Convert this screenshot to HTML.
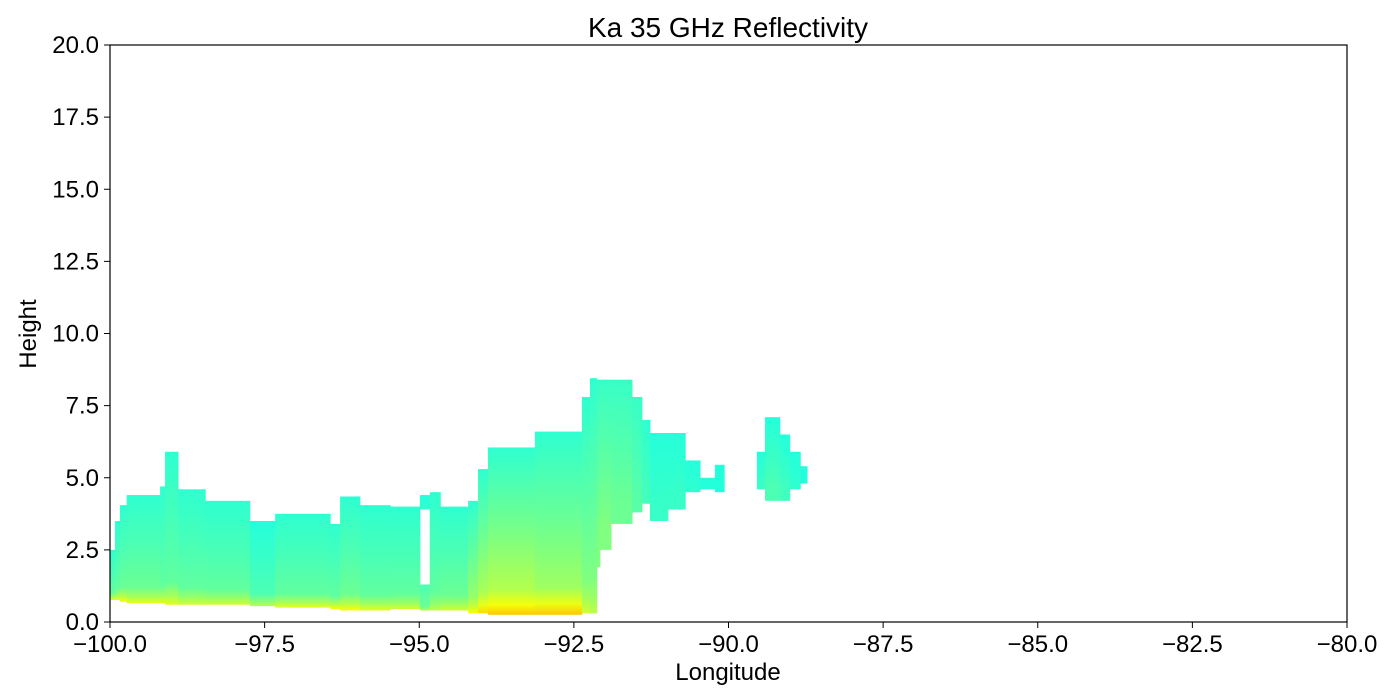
<!DOCTYPE html>
<html><head><meta charset="utf-8"><style>
html,body{margin:0;padding:0;background:#fff;}
svg{display:block;font-family:"Liberation Sans","DejaVu Sans",sans-serif;}
</style></head><body>
<svg id="chart" width="1400" height="700" viewBox="0 0 1400 700">
<defs id="defs"></defs>
<text x="728" y="37" font-size="28" text-anchor="middle">Ka 35 GHz Reflectivity</text>
<g id="marks"></g>
<rect x="110" y="45" width="1237" height="577" fill="none" stroke="#000" stroke-width="1.2"/>
<g id="xticks"></g>
<g id="yticks"></g>
<text x="728" y="680" font-size="24" text-anchor="middle">Longitude</text>
<text x="36" y="334" font-size="24" text-anchor="middle" transform="rotate(-90 36 334)">Height</text>
</svg>
<script>
const xTicks=[-100,-97.5,-95,-92.5,-90,-87.5,-85,-82.5,-80];
const yTicks=[0,2.5,5,7.5,10,12.5,15,17.5,20];
const lon0=[-100,-99.92,-99.84,-99.73,-99.19,-99.11,-98.9,-98.46,-97.74,-97.33,-96.44,-96.28,-95.96,-95.47,-94.99,-94.99,-94.83,-94.66,-94.21,-94.05,-93.89,-93.13,-92.37,-92.24,-92.13,-92.08,-91.9,-91.56,-91.40,-91.27,-90.98,-90.70,-90.46,-90.22,-89.54,-89.41,-89.17,-89.01,-88.84];
const lon1=[-99.92,-99.84,-99.73,-99.19,-99.11,-98.9,-98.46,-97.74,-97.33,-96.44,-96.28,-95.96,-95.47,-94.99,-94.83,-94.83,-94.66,-94.21,-94.05,-93.89,-93.13,-92.37,-92.24,-92.13,-92.08,-91.9,-91.56,-91.40,-91.27,-90.98,-90.70,-90.46,-90.22,-90.07,-89.41,-89.17,-89.01,-88.84,-88.73];
const topH=[2.5,3.5,4.05,4.4,4.7,5.9,4.6,4.2,3.5,3.75,3.4,4.35,4.05,4.0,4.4,1.3,4.5,4.0,4.2,5.3,6.05,6.6,7.8,8.45,8.4,8.4,8.4,7.8,7.0,6.55,6.55,5.6,5.0,5.45,5.9,7.1,6.5,5.9,5.4];
const botH=[0.76,0.76,0.7,0.65,0.65,0.6,0.6,0.6,0.55,0.5,0.45,0.4,0.4,0.45,3.9,0.4,0.4,0.4,0.3,0.3,0.25,0.25,0.3,0.3,1.9,2.5,3.4,3.8,4.1,3.5,3.9,4.5,4.6,4.5,4.6,4.2,4.2,4.6,4.8];
const valTop=[.42,.42,.42,.42,.42,.42,.42,.42,.41,.42,.42,.42,.42,.42,.41,.45,.42,.42,.42,.42,.42,.42,.42,.42,.43,.43,.43,.43,.42,.41,.41,.41,.41,.41,.41,.41,.41,.41,.41];
const valMid=[.47,.47,.48,.48,.47,.47,.47,.47,.45,.47,.47,.48,.47,.47,.42,.48,.47,.48,.52,.54,.55,.53,.5,.5,.5,.5,.48,.46,.44,.43,.43,.42,.41,.41,.43,.45,.44,.42,.41];
const valBot=[.6,.6,.62,.6,.6,.6,.58,.58,.56,.6,.62,.62,.6,.58,.43,.56,.56,.58,.62,.66,.68,.68,.58,.56,.5,.5,.48,.46,.44,.43,.43,.42,.41,.41,.43,.45,.44,.42,.41];
const X=v=>110+(v+100)/20*1237;
const Y=v=>622-v/20*577;
function jet(t){const r=Math.max(0,Math.min(1,1.5-Math.abs(4*t-3))),g=Math.max(0,Math.min(1,1.5-Math.abs(4*t-2))),b=Math.max(0,Math.min(1,1.5-Math.abs(4*t-1)));return `rgb(${Math.round(r*255)},${Math.round(g*255)},${Math.round(b*255)})`;}
const NS="http://www.w3.org/2000/svg";
const defs=document.getElementById('defs'),marks=document.getElementById('marks');
for(let i=0;i<lon0.length;i++){
 const gr=document.createElementNS(NS,'linearGradient');
 gr.setAttribute('id','g'+i);gr.setAttribute('x1','0');gr.setAttribute('y1','1');gr.setAttribute('x2','0');gr.setAttribute('y2','0');
 const stops=[[0,valBot[i]],[0.06,(valBot[i]+valMid[i])/2],[0.15,valMid[i]],[0.55,(valMid[i]+valTop[i])/2],[1,valTop[i]]];
 stops.forEach(s=>{const st=document.createElementNS(NS,'stop');st.setAttribute('offset',s[0]);st.setAttribute('stop-color',jet(s[1]));gr.appendChild(st);});
 defs.appendChild(gr);
 const r=document.createElementNS(NS,'rect');
 
 
 r.setAttribute('x',X(lon0[i]));r.setAttribute('width',Math.max(0,X(lon1[i])-X(lon0[i])+0.5));
 r.setAttribute('y',Y(topH[i]));r.setAttribute('height',Y(botH[i])-Y(topH[i]));
 r.setAttribute('fill','url(#g'+i+')');
 marks.appendChild(r);
}
const xg=document.getElementById('xticks'),yg=document.getElementById('yticks');
xTicks.forEach(v=>{
 const l=document.createElementNS(NS,'line');l.setAttribute('x1',X(v));l.setAttribute('x2',X(v));l.setAttribute('y1',622);l.setAttribute('y2',628);l.setAttribute('stroke','#000');
 
 
 xg.appendChild(l);
 const t=document.createElementNS(NS,'text');t.setAttribute('x',X(v));t.setAttribute('y',652);t.setAttribute('font-size','24');t.setAttribute('text-anchor','middle');
 
 
 t.textContent=v.toFixed(1).replace('-','\u2212');xg.appendChild(t);
});
yTicks.forEach(v=>{
 const l=document.createElementNS(NS,'line');l.setAttribute('x1',104);l.setAttribute('x2',110);l.setAttribute('y1',Y(v));l.setAttribute('y2',Y(v));l.setAttribute('stroke','#000');
 
 
 yg.appendChild(l);
 const t=document.createElementNS(NS,'text');t.setAttribute('x',99);t.setAttribute('y',Y(v)+8);t.setAttribute('font-size','24');t.setAttribute('text-anchor','end');
 
 
 t.textContent=v.toFixed(1);yg.appendChild(t);
});
</script>
</body></html>
